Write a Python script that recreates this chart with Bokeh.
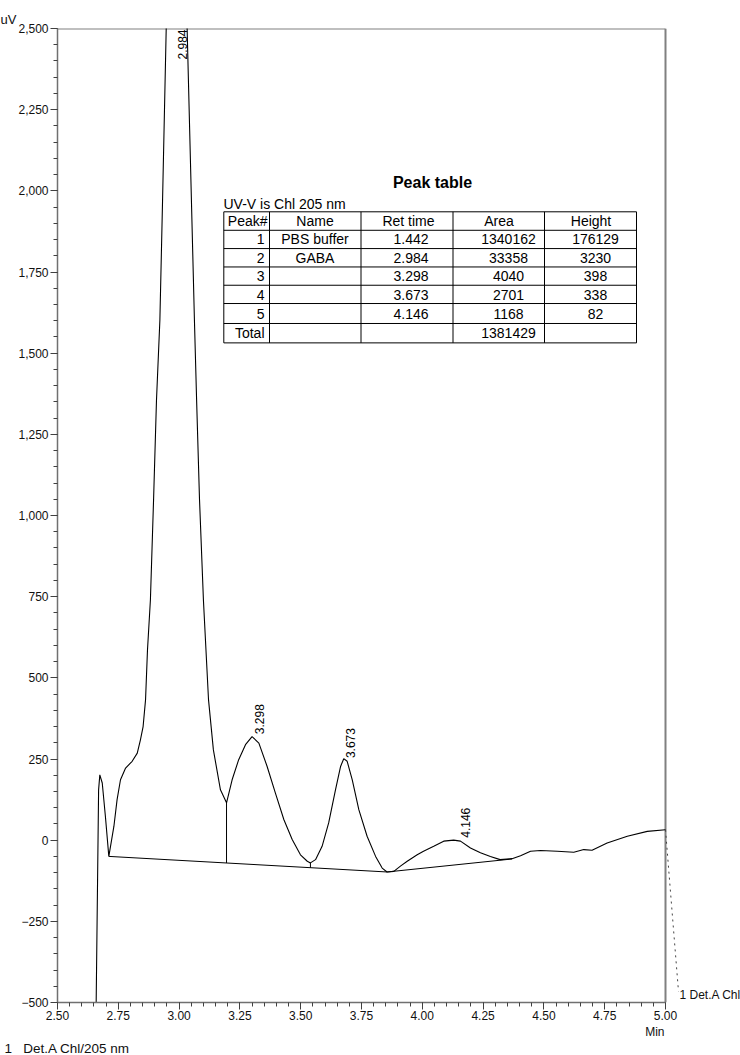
import numpy as np
from bokeh.plotting import figure
from bokeh.models import Range1d, FixedTicker, Label, Arrow, Title
from bokeh.core.properties import value
from bokeh.embed import file_html
from bokeh.resources import INLINE

# ---------------- data ----------------
time_min = [2.659, 2.669, 2.674, 2.684, 2.697, 2.711, 2.718, 2.732, 2.745, 2.759, 2.780, 2.807, 2.828, 2.841,
            2.852, 2.862, 2.870, 2.882, 2.895, 2.907, 2.921, 2.932, 2.947, 2.965, 2.984, 3.005, 3.033, 3.063,
            3.072, 3.084, 3.100, 3.121, 3.141, 3.170, 3.195, 3.218, 3.245, 3.273, 3.300, 3.328, 3.362, 3.396,
            3.431, 3.465, 3.499, 3.527, 3.540, 3.561, 3.588, 3.615, 3.643, 3.664, 3.677, 3.691, 3.712, 3.739,
            3.773, 3.808, 3.835, 3.855, 3.883, 3.910, 3.938, 3.979, 4.005, 4.047, 4.088, 4.129, 4.157, 4.198,
            4.239, 4.280, 4.320, 4.369, 4.404, 4.445, 4.486, 4.555, 4.623, 4.664, 4.698, 4.760, 4.843, 4.925,
            5.000]
signal_uv = [-500, 155, 201, 176, 73, -50, -19, 43, 125, 186, 222, 243, 268, 309,
             350, 432, 586, 740, 1048, 1355, 1602, 1971, 2500, 2950, 3160, 2950, 2500, 1602,
             1355, 1048, 740, 432, 278, 155, 115, 186, 248, 294, 319, 299, 227, 145,
             63, 2, -45, -65, -70, -60, -19, 53, 155, 227, 251, 243, 186, 94,
             12, -50, -86, -98, -96, -80, -65, -45, -34, -19, -3, 0, -3, -24,
             -39, -50, -60, -57, -48, -34, -32, -34, -37, -29, -31, -9, 12, 27,
             32]

baseline_t = [2.711, 3.855, 4.369]
baseline_v = [-50, -98, -58]
drop_t = [3.195, 3.540]

peak_top_label = ["2.984"]
peak_top_t = [2.984]
peak_labels = ["3.298", "3.673", "4.146"]
peak_label_t = [3.298, 3.673, 4.146]

x_ticks = [2.50, 2.75, 3.00, 3.25, 3.50, 3.75, 4.00, 4.25, 4.50, 4.75, 5.00]
x_tick_labels = ["2.50", "2.75", "3.00", "3.25", "3.50", "3.75", "4.00", "4.25", "4.50", "4.75", "5.00"]
y_ticks = [-500, -250, 0, 250, 500, 750, 1000, 1250, 1500, 1750, 2000, 2250, 2500]
y_tick_labels = ["\u2212500", "\u2212250", "0", "250", "500", "750", "1,000", "1,250", "1,500",
                 "1,750", "2,000", "2,250", "2,500"]

table_title = "Peak table"
table_caption = "UV-V is Chl 205 nm"
table_header = ["Peak#", "Name", "Ret time", "Area", "Height"]
table_peak = ["1", "2", "3", "4", "5", "Total"]
table_name = ["PBS buffer", "GABA", "", "", "", ""]
table_ret = ["1.442", "2.984", "3.298", "3.673", "4.146", ""]
table_area = ["1340162", "33358", "4040", "2701", "1168", "1381429"]
table_height = ["176129", "3230", "398", "338", "82", ""]

y_unit = "uV"
x_unit = "Min"
trace_label = "1 Det.A Chl"
legend_text = "1\u00a0\u00a0\u00a0Det.A Chl/205 nm"

# ---------------- layout ----------------
X0, X1, Y0, Y1 = 2.5, 5.0, -500, 2500
FL, FR, FT, FB = 57, 665, 28, 1003  # axis box in page pixels
W, H = 740, 1055
FONT = "Liberation Sans"

def xd(px):
    return X0 + (px - FL) * (X1 - X0) / (FR - FL)

def yd(py):
    return Y1 - (py - FT) * (Y1 - Y0) / (FB - FT)

# the frame reaches the right edge of the canvas so the detector label can sit right of 5.00
p = figure(width=W, height=H, x_range=Range1d(X0, xd(W)), y_range=Range1d(Y0, Y1),
           output_backend="svg", toolbar_location=None,
           min_border_left=FL, min_border_right=0,
           min_border_top=FT, min_border_bottom=H - FB)
p.xgrid.visible = False
p.ygrid.visible = False
p.outline_line_color = None
p.background_fill_color = "white"
p.border_fill_color = "white"

minor_x = [round(2.5 + 0.05 * i, 2) for i in range(51)]
minor_y = list(range(-500, 2501, 50))
p.xaxis.ticker = FixedTicker(ticks=x_ticks, minor_ticks=minor_x)
p.yaxis.ticker = FixedTicker(ticks=y_ticks, minor_ticks=minor_y)
p.xaxis.bounds = (X0, X1)
p.xaxis.major_label_overrides = dict(zip(x_ticks, x_tick_labels))
p.yaxis.major_label_overrides = dict(zip(y_ticks, y_tick_labels))
for ax in (p.xaxis, p.yaxis):
    ax.axis_line_color = "#707070"
    ax.axis_line_width = 1.5
    ax.major_tick_in = 0
    ax.major_tick_out = 7
    ax.minor_tick_in = 0
    ax.minor_tick_out = 4
    ax.major_tick_line_color = "#404040"
    ax.minor_tick_line_color = "#404040"
    ax.major_label_text_font = FONT
    ax.major_label_text_font_size = "12px"
    ax.major_label_text_color = "#111111"
    ax.major_label_standoff = 2
p.xaxis.major_label_standoff = 1

# top and right border of the axis box
p.segment(x0=[X0, X1], y0=[Y1, Y0], x1=[X1, X1], y1=[Y1, Y1], line_color="#808080", line_width=2)

# chromatogram
p.line(time_min, signal_uv, line_color="black", line_width=1.1)
# integration baseline and drop lines
p.line(baseline_t, baseline_v, line_color="black", line_width=1)
drop_top = np.interp(drop_t, time_min, signal_uv)
drop_bot = np.interp(drop_t, baseline_t, baseline_v)
p.segment(x0=drop_t, y0=drop_top, x1=drop_t, y1=drop_bot, line_color="black", line_width=1)

# peak labels
p.text(x=peak_top_t, y=[Y1] * len(peak_top_t), text=peak_top_label, angle=np.pi / 2,
       text_align="right", text_baseline="top", x_offset=3, y_offset=1,
       text_font=value(FONT), text_font_size="12px", text_color="black")
p.text(x=peak_label_t, y=list(np.interp(peak_label_t, time_min, signal_uv)), text=peak_labels,
       angle=np.pi / 2, text_align="left", text_baseline="top", x_offset=3, y_offset=-3,
       text_font=value(FONT), text_font_size="12px", text_color="black")

# ---------------- peak table ----------------
col_px = [223.3, 269, 360.5, 452.5, 544, 636]
row_px = [211.5, 230, 248.3, 266.7, 285, 303.3, 323.3, 342.7]
cx = [xd(v) for v in col_px]
ry = [yd(v) for v in row_px]
p.segment(x0=[cx[0]] * len(ry), y0=ry, x1=[cx[-1]] * len(ry), y1=ry, line_color="black", line_width=1)
p.segment(x0=cx, y0=[ry[0]] * len(cx), x1=cx, y1=[ry[-1]] * len(cx), line_color="black", line_width=1)

TFS = "14px"
p.text(x=[xd(432)], y=[yd(182)], text=[table_title], text_align="center", text_baseline="middle",
       text_font=value(FONT), text_font_size="16px", text_font_style="bold", text_color="black")
p.text(x=[xd(223)], y=[yd(203.5)], text=[table_caption], text_align="left", text_baseline="middle",
       text_font=value(FONT), text_font_size=TFS, text_color="black")

head_x = [xd(267), xd(314.5), xd(408), xd(498.5), xd(590.5)]
head_align = ["right", "center", "center", "center", "center"]
hy = yd(221)
p.text(x=head_x, y=[hy] * 5, text=table_header, text_align=head_align, text_baseline="middle",
       text_font=value(FONT), text_font_size=TFS, text_color="black")

row_y = [yd(v) for v in [239, 257.5, 276, 294.5, 313.5, 332.5]]
col_defs = [(table_peak, xd(264), "right"), (table_name, xd(314.5), "center"),
            (table_ret, xd(410.5), "center"), (table_area, xd(508), "center"),
            (table_height, xd(595), "center")]
for texts, x, al in col_defs:
    p.text(x=[x] * len(texts), y=row_y, text=texts, text_align=al, text_baseline="middle",
           text_font=value(FONT), text_font_size=TFS, text_color="black")

# ---------------- detector trace label ----------------
p.add_layout(Arrow(end=None, x_start=time_min[-1], y_start=signal_uv[-1], x_end=xd(678), y_end=yd(992),
                   line_dash="dotted", line_width=1, line_color="#444444"))
p.add_layout(Label(x=xd(679), y=yd(995), text=trace_label, text_font=FONT, text_font_size="12px",
                   text_align="left", text_baseline="middle", text_color="#111111"))

# ---------------- texts outside the axis box ----------------
p.add_layout(Title(text=y_unit, align="left", offset=-FL, standoff=4, text_font=FONT,
                   text_font_size="13px", text_font_style="normal", text_color="#111111"), "above")
p.add_layout(Title(text=x_unit, align="right", offset=W - 664, standoff=0, text_font=FONT,
                   text_font_size="12px", text_font_style="normal", text_color="#111111"), "below")
p.add_layout(Title(text=legend_text, align="left", offset=-(FL - 4), standoff=0,
                   text_font=FONT, text_font_size="13.5px", text_font_style="normal",
                   text_color="#111111"), "below")

open("out.html", "w").write(file_html(p, INLINE))
